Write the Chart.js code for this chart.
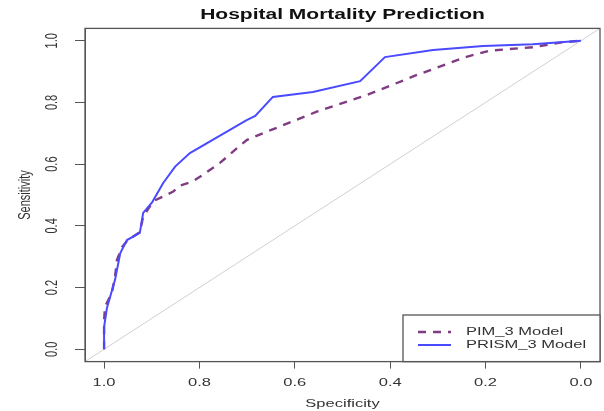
<!DOCTYPE html>
<html>
<head>
<meta charset="utf-8">
<script src="https://cdn.jsdelivr.net/npm/chart.js@4.4.1/dist/chart.umd.min.js"></script>
<style>
html,body{margin:0;padding:0;background:#fff;}
#wrap{width:604px;height:411px;position:relative;}
</style>
</head>
<body>
<div id="wrap"><canvas id="c" width="604" height="411"></canvas></div>
<script>
const chartTitle = "Hospital Mortality Prediction";
const xTitle = "Specificity";
const yTitle = "Sensitivity";
const tickValues = [0, 0.2, 0.4, 0.6, 0.8, 1.0];
const tickLabels = ["0.0", "0.2", "0.4", "0.6", "0.8", "1.0"];

const pimLabel = "PIM_3 Model";
const pimSpec = [1.0, 1.0, 0.998, 0.984, 0.977, 0.973, 0.962, 0.950, 0.925, 0.918, 0.897, 0.855, 0.841, 0.813, 0.799, 0.757, 0.715, 0.700, 0.659, 0.554, 0.449, 0.344, 0.240, 0.191, 0.101, 0.044, 0.0];
const pimSens = [0.0, 0.094, 0.138, 0.181, 0.235, 0.289, 0.332, 0.354, 0.380, 0.430, 0.480, 0.511, 0.530, 0.545, 0.559, 0.604, 0.660, 0.679, 0.705, 0.770, 0.824, 0.889, 0.948, 0.968, 0.979, 0.994, 1.0];

const prismLabel = "PRISM_3 Model";
const prismSpec = [1.0, 1.0, 0.994, 0.977, 0.966, 0.952, 0.925, 0.918, 0.899, 0.876, 0.851, 0.820, 0.701, 0.683, 0.646, 0.562, 0.463, 0.411, 0.310, 0.205, 0.101, 0.0];
const prismSens = [0.0, 0.072, 0.134, 0.225, 0.312, 0.354, 0.377, 0.442, 0.477, 0.539, 0.592, 0.636, 0.743, 0.756, 0.818, 0.834, 0.869, 0.947, 0.970, 0.983, 0.989, 1.0];

const diagSpec = [1.04, -0.04];
const diagSens = [-0.04, 1.04];

const pts = (xs, ys) => xs.map((x, i) => ({x: x, y: ys[i]}));

const FONT = "'Liberation Sans', Arial, Helvetica, sans-serif";
const PIM_COLOR = "#7f3c82";
const PRISM_COLOR = "#4a4aff";
const TEXT_COLOR = "#333";
const STRETCH = 1.5;

function stretchedText(ctx, text, x, y, font, color, align, rot) {
  ctx.save();
  ctx.translate(x, y);
  if (rot) {
    ctx.rotate(rot);
    ctx.scale(1, STRETCH);
  } else {
    ctx.scale(STRETCH, 1);
  }
  ctx.font = font;
  ctx.fillStyle = color;
  ctx.textAlign = align || 'center';
  ctx.textBaseline = 'middle';
  ctx.fillText(text, 0, 0);
  ctx.restore();
}

const textAndBox = {
  id: 'textAndBox',
  afterDraw(chart) {
    const ctx = chart.ctx;
    const a = chart.chartArea;
    const xs = chart.scales.x, ys = chart.scales.y;
    ctx.save();
    ctx.strokeStyle = '#555';
    ctx.lineWidth = 1.3;
    ctx.strokeRect(a.left, a.top, a.right - a.left, a.bottom - a.top);

    // title
    stretchedText(ctx, chartTitle, (a.left + a.right) / 2, 15, 'bold 14px ' + FONT, '#111', 'center');
    // x tick labels
    xs.ticks.forEach((t) => {
      const idx = tickValues.indexOf(t.value);
      stretchedText(ctx, tickLabels[idx], xs.getPixelForValue(t.value), 382.5, '11px ' + FONT, TEXT_COLOR, 'center');
    });
    // y tick labels (rotated)
    ys.ticks.forEach((t) => {
      const idx = tickValues.indexOf(t.value);
      stretchedText(ctx, tickLabels[idx], 52, ys.getPixelForValue(t.value), '11px ' + FONT, TEXT_COLOR, 'center', -Math.PI / 2);
    });
    // axis titles
    stretchedText(ctx, xTitle, (a.left + a.right) / 2, 403.5, '11px ' + FONT, TEXT_COLOR, 'center');
    stretchedText(ctx, yTitle, 25, (a.top + a.bottom) / 2, '11px ' + FONT, TEXT_COLOR, 'center', -Math.PI / 2);

    // legend
    const lx = 403, ly = 315, lw = a.right - lx, lh = a.bottom - ly;
    ctx.fillStyle = '#fff';
    ctx.fillRect(lx, ly, lw, lh);
    ctx.strokeStyle = '#555';
    ctx.lineWidth = 1.3;
    ctx.strokeRect(lx, ly, lw, lh);
    const ds = chart.data.datasets;
    const entries = [
      {label: ds[1].label, color: ds[1].borderColor, dash: ds[1].borderDash || [], w: ds[1].borderWidth},
      {label: ds[0].label, color: ds[0].borderColor, dash: [], w: ds[0].borderWidth}
    ];
    entries.forEach((e, i) => {
      const y = 332 + i * 13;
      ctx.beginPath();
      ctx.strokeStyle = e.color;
      ctx.lineWidth = e.w;
      ctx.setLineDash(e.dash);
      ctx.moveTo(418, y);
      ctx.lineTo(451, y);
      ctx.stroke();
      ctx.setLineDash([]);
      stretchedText(ctx, e.label, 466, y, '11px ' + FONT, TEXT_COLOR, 'left');
    });
    ctx.restore();
  }
};

new Chart(document.getElementById('c'), {
  type: 'scatter',
  data: {
    datasets: [
      {label: prismLabel, data: pts(prismSpec, prismSens), showLine: true, borderColor: PRISM_COLOR, borderWidth: 2, pointRadius: 0, fill: false, tension: 0, order: 0},
      {label: pimLabel, data: pts(pimSpec, pimSens), showLine: true, borderColor: PIM_COLOR, borderWidth: 2.4, borderDash: [8, 7], pointRadius: 0, fill: false, tension: 0, order: 1},
      {label: 'diag', data: pts(diagSpec, diagSens), showLine: true, borderColor: '#d0d0d0', borderWidth: 1, pointRadius: 0, fill: false, order: 2}
    ]
  },
  options: {
    responsive: false,
    animation: false,
    layout: {padding: {left: 0, right: 4, top: 28.4, bottom: 0}},
    plugins: {
      legend: {display: false},
      tooltip: {enabled: false},
      title: {display: false}
    },
    scales: {
      x: {
        type: 'linear', reverse: true, min: -0.04, max: 1.04,
        afterBuildTicks: s => { s.ticks = tickValues.map(v => ({value: v})); },
        afterFit: s => { s.height = 49.4; },
        grid: {display: true, drawOnChartArea: false, drawTicks: true, tickLength: 7, color: '#555', lineWidth: 1},
        border: {display: true, color: '#555', width: 1},
        ticks: {display: false},
        title: {display: false}
      },
      y: {
        type: 'linear', min: -0.04, max: 1.04,
        afterBuildTicks: s => { s.ticks = tickValues.map(v => ({value: v})); },
        afterFit: s => { s.width = 85; },
        grid: {display: true, drawOnChartArea: false, drawTicks: true, tickLength: 10, color: '#555', lineWidth: 1},
        border: {display: true, color: '#555', width: 1},
        ticks: {display: false},
        title: {display: false}
      }
    }
  },
  plugins: [textAndBox]
});
</script>
</body>
</html>
